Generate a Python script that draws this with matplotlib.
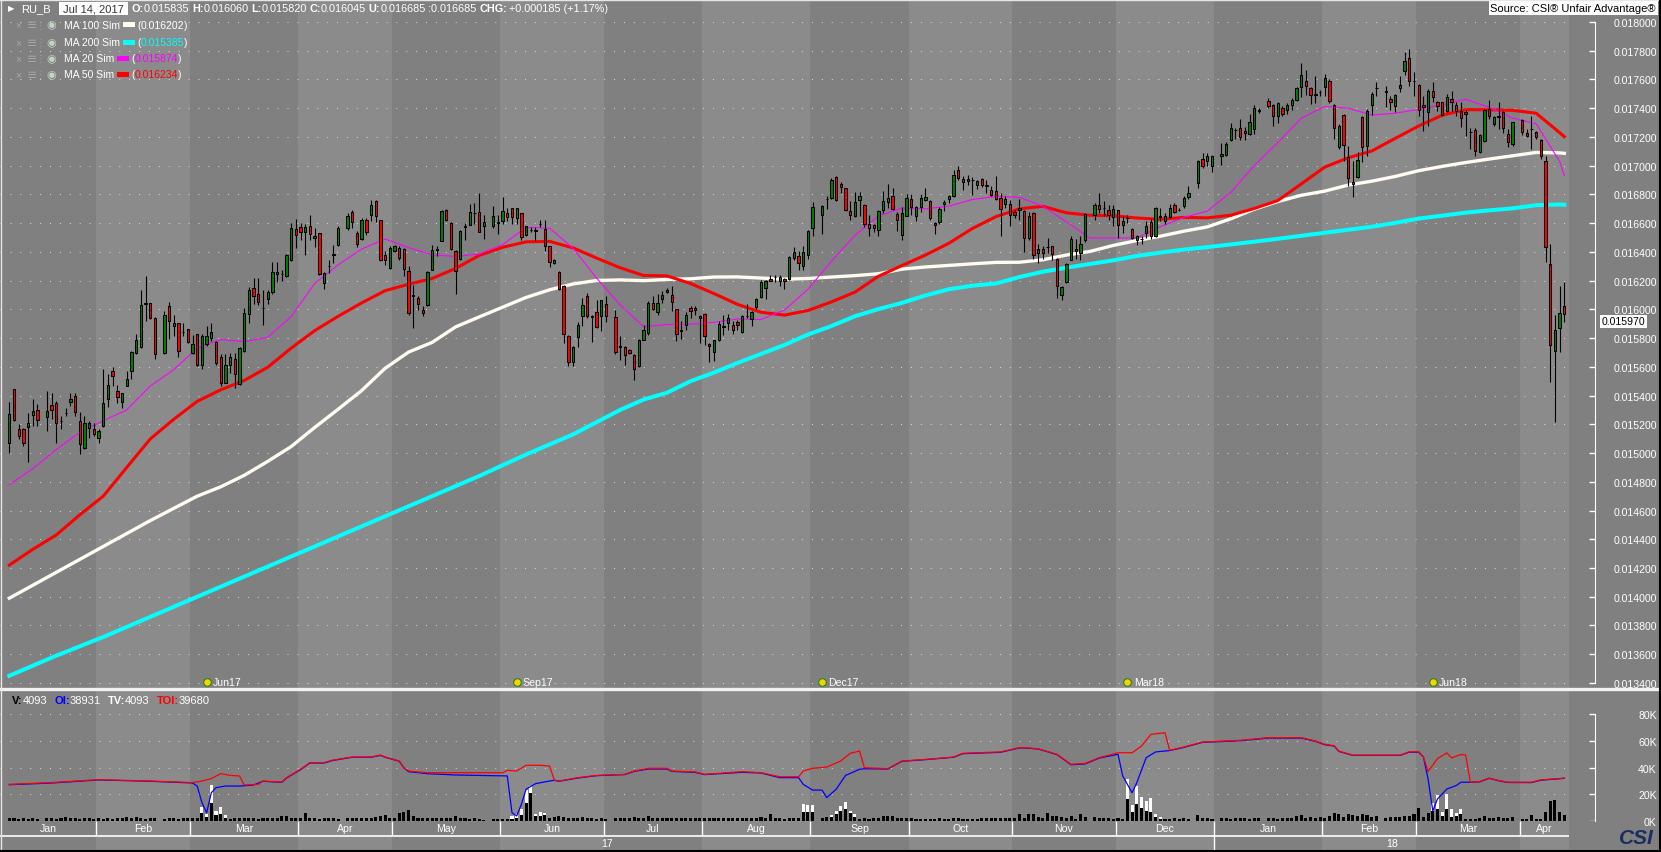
import matplotlib
matplotlib.use("Agg")
import matplotlib.pyplot as plt
from matplotlib.lines import Line2D
from matplotlib.patches import Rectangle
import numpy as np
import pandas as pd

plt.rcParams["font.family"] = ["Liberation Sans", "DejaVu Sans"]

# RU_B daily bars, prices in millionths of USD per ruble
opens = [
    # Jan 2017
    15072, 15448, 15169, 15165, 15183, 15264, 15301, 15253, 15332, 15350, 15223, 15276, 15355, 15394, 15225, 15035, 15174, 15169,
    # Feb
    15104, 15188, 15378, 15573, 15434, 15355, 15466, 15573, 15696, 15737, 16045, 16046, 15941, 15696, 16022, 15886, 15906, 15844, 15860,
    # Mar
    15698, 15830, 15610, 15756, 15802, 15774, 15670, 15489, 15610, 15658, 15480, 15709, 15969, 16150, 16108, 16011, 16069, 16122, 16247, 16247, 16231, 16342, 16560,
    # Apr
    16574, 16537, 16581, 16495, 16532, 16185, 16305, 16384, 16445, 16563, 16679, 16530, 16489, 16623, 16658, 16751, 16619, 16380, 16289,
    # May
    16403, 16424, 16422, 16269, 16097, 16079, 15997, 16032, 16276, 16419, 16477, 16693, 16600, 16403, 16352, 16579, 16588, 16674, 16681, 16577, 16577, 16607,
    # Jun
    16612, 16674, 16704, 16637, 16670, 16519, 16554, 16549, 16595, 16558, 16438, 16322, 16259, 16160, 15812, 15634, 15807, 15951, 16090, 15951, 15981, 15951,
    # Jul
    16039, 15946, 15742, 15738, 15719, 15684, 15603, 15789, 15835, 16044, 15979, 16074, 16118, 16103, 16003, 15855, 15889, 16010, 16010, 15957,
    # Aug
    15970, 15762, 15702, 15785, 15882, 15906, 15894, 15910, 15843, 15952, 15933, 16015, 16087, 16149, 16211, 16225, 16195, 16211, 16211, 16357, 16374, 16304, 16376,
    # Sep
    16566, 16654, 16770, 16775, 16921, 16872, 16844, 16687, 16647, 16763, 16728, 16594, 16589, 16550, 16694, 16749, 16791, 16666, 16515, 16652,
    # Oct
    16770, 16652, 16712, 16763, 16756, 16601, 16606, 16735, 16770, 16791, 16972, 16886, 16907, 16902, 16868, 16909, 16868, 16833, 16821, 16775, 16736, 16736,
    # Nov
    16675, 16689, 16687, 16497, 16671, 16393, 16423, 16434, 16439, 16353, 16103, 16188, 16346, 16420, 16393, 16485, 16654, 16729, 16705, 16694, 16643,
    # Dec
    16694, 16585, 16636, 16559, 16485, 16490, 16532, 16606, 16509, 16647, 16613, 16640, 16729, 16694, 16717, 16782, 16879, 17046, 17030, 16995,
    # Jan 2018
    17069, 17076, 17181, 17250, 17262, 17243, 17222, 17255, 17382, 17452, 17424, 17347, 17401, 17384, 17424, 17454, 17551, 17586, 17540, 17494, 17512,
    # Feb
    17545, 17587, 17424, 17127, 17352, 17058, 16888, 16919, 17336, 17139, 17422, 17540, 17522, 17464, 17413, 17538, 17661, 17747, 17587,
    # Mar
    17564, 17424, 17371, 17522, 17441, 17441, 17383, 17464, 17424, 17378, 17371, 17232, 17248, 17093, 17174, 17394, 17290, 17341, 17371, 17220, 17151,
    # Apr
    17318, 17227, 17255, 17232, 17181, 17030, 16315, 15708, 15868, 16021,
]
highs = [
    15355, 15448, 15199, 15176, 15276, 15373, 15339, 15429, 15415, 15364, 15257, 15315, 15415, 15415, 15285, 15257, 15223, 15206,
    15169, 15587, 15552, 15596, 15471, 15420, 15573, 15712, 15832, 16138, 16231, 16046, 15948, 15988, 16050, 15962, 15906, 15902, 15860,
    15825, 15830, 15828, 15883, 15906, 15779, 15686, 15686, 15698, 15698, 15740, 16011, 16154, 16220, 16220, 16138, 16134, 16328, 16328, 16277, 16384, 16602, 16630,
    16602, 16597, 16660, 16567, 16532, 16261, 16347, 16450, 16577, 16670, 16693, 16542, 16635, 16635, 16762, 16762, 16623, 16403, 16438,
    16449, 16438, 16426, 16299, 16171, 16090, 16020, 16264, 16445, 16438, 16693, 16697, 16605, 16415, 16554, 16600, 16735, 16739, 16809, 16658, 16721, 16658,
    16779, 16704, 16704, 16704, 16674, 16581, 16572, 16572, 16619, 16619, 16442, 16350, 16264, 16171, 15821, 15742, 15909, 16078, 16113, 15963, 16067, 16067,
    16090, 15993, 15812, 15742, 15724, 15689, 15793, 15893, 16060, 16090, 16109, 16125, 16148, 16165, 16003, 15917, 15980, 16021, 16021, 15964,
    15975, 15767, 15790, 15917, 15964, 15968, 15917, 15924, 15964, 16040, 15987, 16079, 16202, 16207, 16242, 16239, 16242, 16218, 16369, 16434, 16404, 16443, 16555,
    16745, 16728, 16786, 16914, 16930, 16884, 16844, 16752, 16814, 16814, 16735, 16659, 16596, 16694, 16821, 16874, 16844, 16675, 16712, 16805,
    16803, 16721, 16805, 16844, 16763, 16606, 16712, 16759, 16798, 16972, 16995, 16925, 16937, 16921, 16898, 16914, 16902, 16856, 16926, 16810, 16787, 16763,
    16694, 16768, 16689, 16675, 16675, 16457, 16444, 16497, 16444, 16358, 16161, 16323, 16509, 16490, 16509, 16671, 16740, 16810, 16752, 16729, 16729,
    16694, 16648, 16659, 16566, 16520, 16508, 16617, 16636, 16712, 16705, 16671, 16735, 16740, 16705, 16787, 16856, 17041, 17088, 17088, 17076,
    17157, 17162, 17296, 17262, 17327, 17269, 17361, 17424, 17401, 17470, 17431, 17440, 17412, 17436, 17470, 17547, 17718, 17667, 17551, 17626, 17528,
    17638, 17603, 17429, 17290, 17359, 17139, 17035, 17097, 17343, 17394, 17515, 17584, 17557, 17487, 17499, 17626, 17789, 17812, 17649,
    17568, 17487, 17533, 17580, 17452, 17445, 17499, 17522, 17445, 17441, 17390, 17260, 17260, 17220, 17394, 17457, 17343, 17445, 17383, 17255, 17306,
    17325, 17255, 17348, 17243, 17185, 17069, 16455, 15963, 16160, 16188,
]
lows = [
    15002, 15225, 15095, 15049, 14938, 15188, 15188, 15153, 15234, 15067, 15165, 15257, 15327, 15257, 14996, 15026, 15104, 15118,
    15072, 15181, 15322, 15466, 15350, 15311, 15466, 15513, 15689, 15730, 15918, 15934, 15656, 15689, 15795, 15814, 15670, 15814, 15763,
    15686, 15605, 15582, 15744, 15779, 15614, 15466, 15485, 15559, 15450, 15475, 15702, 15902, 16034, 16032, 15888, 16034, 16110, 16189, 16196, 16226, 16338, 16426,
    16486, 16375, 16486, 16435, 16240, 16143, 16254, 16322, 16438, 16554, 16565, 16433, 16484, 16519, 16612, 16605, 16340, 16310, 16282,
    16396, 16345, 16229, 15963, 15870, 15997, 15951, 16020, 16271, 16373, 16473, 16612, 16415, 16109, 16345, 16484, 16586, 16595, 16535, 16489, 16563, 16526,
    16595, 16612, 16595, 16595, 16480, 16512, 16535, 16473, 16572, 16403, 16294, 16315, 16137, 15766, 15603, 15603, 15738, 15882, 15940, 15770, 15870, 15847,
    15910, 15691, 15650, 15615, 15689, 15511, 15599, 15784, 15820, 15997, 15963, 16044, 16113, 15987, 15778, 15794, 15859, 15940, 15963, 15767,
    15755, 15632, 15639, 15778, 15824, 15859, 15831, 15859, 15836, 15940, 15882, 16000, 16080, 16072, 16195, 16188, 16161, 16142, 16207, 16346, 16276, 16276, 16351,
    16508, 16524, 16701, 16770, 16752, 16810, 16682, 16620, 16643, 16647, 16573, 16513, 16536, 16513, 16671, 16705, 16694, 16543, 16485, 16647,
    16659, 16612, 16675, 16752, 16620, 16527, 16596, 16682, 16740, 16782, 16902, 16833, 16868, 16798, 16837, 16851, 16810, 16786, 16763, 16513, 16705, 16578,
    16636, 16624, 16399, 16485, 16351, 16323, 16351, 16393, 16346, 16080, 16068, 16184, 16341, 16351, 16346, 16471, 16624, 16671, 16648, 16624, 16578,
    16497, 16532, 16601, 16490, 16450, 16457, 16497, 16490, 16504, 16613, 16596, 16636, 16671, 16682, 16705, 16768, 16844, 16984, 16995, 16953,
    17007, 17069, 17169, 17185, 17181, 17176, 17215, 17222, 17366, 17401, 17273, 17297, 17343, 17361, 17385, 17447, 17477, 17494, 17431, 17436, 17482,
    17487, 17436, 17185, 17116, 17035, 16861, 16779, 16912, 17023, 17065, 17352, 17487, 17406, 17390, 17376, 17515, 17631, 17552, 17487,
    17343, 17243, 17274, 17441, 17383, 17343, 17371, 17383, 17343, 17267, 17209, 17116, 17065, 17088, 17162, 17325, 17278, 17255, 17227, 17127, 17139,
    17213, 17197, 17116, 17185, 17046, 16332, 15497, 15218, 15705, 15909,
]
closes = [
    15269, 15230, 15118, 15067, 15211, 15292, 15232, 15292, 15299, 15211, 15223, 15276, 15373, 15285, 15065, 15206, 15206, 15135,
    15155, 15346, 15475, 15538, 15390, 15415, 15513, 15705, 15784, 16027, 16040, 15941, 15686, 15958, 15916, 15906, 15709, 15840, 15774,
    15760, 15610, 15814, 15814, 15844, 15624, 15489, 15610, 15670, 15547, 15728, 15976, 16138, 16092, 16053, 16008, 16120, 16259, 16261, 16244, 16375, 16567, 16519,
    16537, 16574, 16523, 16514, 16247, 16254, 16302, 16381, 16565, 16651, 16605, 16456, 16621, 16535, 16728, 16653, 16345, 16345, 16424,
    16442, 16357, 16280, 15974, 16094, 16034, 15974, 16259, 16415, 16416, 16688, 16619, 16419, 16269, 16547, 16576, 16681, 16671, 16540, 16609, 16651, 16604,
    16688, 16644, 16642, 16704, 16503, 16577, 16551, 16546, 16592, 16438, 16329, 16345, 16141, 15831, 15634, 15735, 15893, 16032, 15951, 15948, 15877, 16067,
    15951, 15703, 15739, 15684, 15696, 15585, 15789, 15858, 16045, 16002, 16044, 16102, 16137, 16049, 15829, 15852, 15964, 15987, 15994, 15940,
    15813, 15743, 15785, 15901, 15879, 15940, 15859, 15894, 15952, 15955, 15980, 16072, 16191, 16195, 16196, 16222, 16225, 16195, 16362, 16399, 16323, 16399, 16543,
    16712, 16721, 16767, 16902, 16759, 16851, 16694, 16654, 16749, 16791, 16594, 16564, 16566, 16682, 16756, 16777, 16701, 16620, 16670, 16775,
    16712, 16712, 16775, 16782, 16636, 16590, 16701, 16745, 16791, 16937, 16914, 16909, 16891, 16899, 16891, 16868, 16856, 16798, 16768, 16698, 16768, 16654,
    16654, 16705, 16497, 16652, 16381, 16420, 16393, 16431, 16388, 16161, 16154, 16316, 16492, 16404, 16457, 16666, 16729, 16698, 16702, 16659, 16698,
    16590, 16617, 16633, 16497, 16508, 16487, 16578, 16509, 16705, 16644, 16647, 16705, 16675, 16691, 16775, 16810, 17030, 16995, 17065, 17065,
    17083, 17153, 17262, 17247, 17199, 17227, 17301, 17401, 17385, 17417, 17347, 17436, 17361, 17424, 17459, 17540, 17633, 17556, 17494, 17497, 17515,
    17608, 17452, 17262, 17278, 17146, 16912, 16872, 17042, 17127, 17383, 17496, 17543, 17510, 17441, 17494, 17564, 17731, 17591, 17590,
    17390, 17410, 17522, 17475, 17413, 17352, 17480, 17441, 17383, 17329, 17362, 17235, 17104, 17213, 17387, 17343, 17336, 17344, 17260, 17162, 17301,
    17232, 17209, 17258, 17197, 17069, 16431, 15752, 15856, 15972, 15970,
]
# contract volume, thousands
volume = [
    2.0, 2.2, 1.8, 2.0, 1.2, 2.0, 1.5, 2.2, 2.0, 1.5, 2.2, 3.0, 2.0, 2.2, 1.5, 2.0, 2.2, 1.5,
    2.0, 1.5, 2.2, 1.5, 2.0, 2.2, 3.0, 2.5, 3.2, 2.5, 1.5, 2.0, 2.2, 1.5, 2.0, 2.5, 1.5, 2.0, 2.2,
    2.0, 2.5, 6.2, 3.0, 13.8, 4.2, 5.0, 2.0, 1.5, 2.0, 2.2, 2.0, 2.5, 2.2, 1.5, 2.0, 2.5, 2.2, 2.0, 3.8, 3.8, 2.5, 2.2,
    2.5, 5.8, 2.2, 2.0, 1.5, 2.5, 2.0, 2.2, 1.5, 2.0, 2.5, 2.2, 2.5, 2.0, 2.2, 3.0, 3.8, 4.5, 2.5,
    2.0, 5.8, 6.8, 8.0, 3.5, 2.5, 2.2, 2.0, 2.5, 2.2, 2.5, 2.0, 2.2, 3.8, 2.5, 2.0, 1.5, 2.0, 1.5, 1.0, 1.2, 1.5,
    1.2, 1.5, 1.8, 2.5, 4.2, 13.2, 20.8, 3.8, 3.8, 4.5, 2.5, 3.0, 3.5, 3.0, 2.5, 2.2, 2.0, 3.0, 2.5, 2.0, 1.5, 2.2,
    1.5, 2.2, 2.5, 2.0, 2.2, 3.0, 2.2, 2.5, 4.1, 2.2, 2.0, 2.5, 2.2, 2.0, 2.5, 2.2, 2.0, 2.5, 2.2, 2.0,
    2.5, 2.2, 2.0, 2.5, 2.2, 2.0, 2.5, 2.2, 2.0, 2.5, 2.2, 2.5, 3.0, 2.5, 5.0, 2.5, 2.0, 1.8, 2.0, 2.5, 2.0, 7.0, 7.0,
    7.0, 2.5, 3.0, 3.2, 5.0, 7.5, 9.2, 6.2, 3.0, 1.5, 2.0, 1.5, 2.5, 2.0, 3.5, 3.5, 3.5, 2.5, 2.0, 2.2,
    2.0, 1.5, 1.5, 1.5, 1.5, 1.5, 2.0, 1.5, 1.5, 2.5, 2.0, 1.5, 1.5, 1.5, 1.5, 2.5, 2.0, 2.0, 2.5, 2.5, 2.5, 2.0,
    2.5, 5.0, 2.5, 5.0, 5.0, 3.0, 2.5, 5.8, 3.8, 3.8, 3.0, 2.5, 3.8, 1.5, 5.0, 3.0, 3.0, 2.5, 2.0, 2.0, 1.5,
    2.0, 1.5, 16.2, 6.8, 12.5, 10.0, 7.5, 7.0, 3.0, 1.2, 1.5, 1.5, 2.0, 1.5, 2.5, 1.2, 4.2, 2.5, 2.0, 1.2,
    2.0, 2.5, 1.5, 2.0, 2.5, 2.5, 1.5, 2.0, 2.0, 2.5, 2.0, 1.5, 2.5, 2.5, 2.5, 3.5, 4.2, 2.5, 3.0, 2.5, 3.0,
    2.5, 4.0, 6.2, 5.0, 3.0, 5.0, 4.5, 3.5, 5.0, 4.3, 3.0, 3.8, 2.5, 3.3, 3.0, 3.3, 3.5, 3.5, 5.0,
    10.0, 3.3, 6.3, 7.6, 8.9, 3.8, 8.9, 3.3, 3.8, 5.0, 1.3, 1.3, 1.3, 2.5, 3.5, 2.0, 2.5, 3.3, 2.0, 2.5, 3.0,
    1.3, 1.3, 4.3, 1.3, 1.3, 7.0, 14.7, 16.0, 6.8, 4.3,
]
# total volume on roll days (white bars), by weekday session number
tv_day = [41, 42, 43, 44, 45, 46, 107, 108, 109, 110, 111, 112, 113, 114,
          169, 170, 171, 174, 175, 176, 177, 178, 179, 180,
          238, 239, 240, 241, 242, 243, 244, 245, 303, 304, 305, 306, 307, 308, 309]
tv_k = [10.5, 5.0, 26.8, 7.5, 10.5, 4.2, 3.8, 5.0, 8.8, 23.0, 26.2, 5.0, 7.0, 5.8,
        12.5, 11.8, 11.8, 3.2, 4.2, 7.2, 11.2, 14.2, 7.5, 5.0,
        31.2, 11.8, 26.2, 18.2, 15.0, 17.2, 5.0, 3.0, 13.2, 19.7, 7.0, 20.3, 8.9, 6.3, 8.9]

# open interest (blue) and total open interest (red), thousands
oi_day = [0, 9, 19, 30, 39, 40, 41, 42, 43, 44, 46, 49, 52, 54, 58, 59, 62, 64, 67, 69, 73, 77, 79, 80, 83,
          84, 85, 89, 95, 106, 107, 108, 109, 110, 112, 115, 116, 117, 121, 125, 131, 133, 136, 140, 141,
          146, 148, 156, 160, 164, 168, 169, 171, 173, 174, 176, 178, 181, 182, 187, 190, 195, 201, 203, 211,
          215, 216, 219, 223, 226, 229, 232, 236, 237, 239, 240, 242, 244, 246, 247, 250, 254, 262, 268, 275,
          278, 280, 282, 283, 286, 296, 298, 300, 301, 302, 303, 304, 306, 308, 309, 311, 313, 315, 317, 319,
          324, 326, 329, 331]
oi_k = [27.2, 28.5, 30.8, 29.8, 28.5, 26.2, 13.8, 6.2, 21.2, 25.0, 26.2, 26.2, 27.0, 29.8, 29.0, 32.2, 38.5, 43.5, 43.5, 45.5, 47.8, 47.8, 49.2, 47.8, 44.8,
        39.8, 37.0, 35.5, 34.5, 33.8, 6.2, 3.8, 12.5, 23.8, 28.0, 30.0, 30.5, 29.8, 32.2, 34.0, 34.8, 37.2, 39.0, 39.0, 37.2,
        36.5, 34.8, 36.5, 36.0, 32.5, 32.5, 27.5, 23.2, 23.2, 17.5, 23.8, 34.2, 38.8, 39.2, 39.0, 44.8, 46.0, 47.8, 50.5, 51.5,
        54.8, 54.8, 54.0, 49.8, 42.2, 42.8, 47.2, 50.0, 33.8, 21.2, 28.8, 47.5, 51.8, 52.5, 52.8, 55.2, 59.0, 60.2, 62.2, 62.2,
        59.8, 57.2, 56.2, 52.2, 49.2, 49.2, 51.6, 51.6, 48.1, 31.6, 7.6, 16.5, 24.0, 26.6, 29.1, 29.1, 29.4, 32.0, 30.2, 28.9,
        28.8, 30.6, 31.4, 32.0]
toi_day = [0, 9, 19, 30, 39, 41, 43, 45, 47, 49, 50, 53, 54, 58, 59, 62, 64, 67, 69, 73, 77, 79, 80, 83, 84,
           85, 89, 105, 106, 108, 110, 113, 115, 116, 117, 121, 125, 131, 133, 136, 140, 141, 146, 148, 156,
           160, 164, 168, 169, 171, 174, 177, 179, 181, 182, 187, 190, 195, 201, 203, 211, 215, 216, 219, 223,
           226, 229, 232, 236, 239, 241, 243, 246, 247, 250, 254, 262, 268, 275, 278, 280, 282, 283, 286, 296,
           298, 300, 301, 302, 304, 306, 307, 308, 309, 310, 311, 313, 315, 317, 319, 324, 326, 329, 331]
toi_k = [27.5, 28.8, 31.0, 30.0, 28.8, 30.0, 31.8, 35.5, 34.2, 33.8, 27.0, 27.5, 30.0, 29.2, 32.5, 38.8, 43.8, 43.8, 45.8, 48.0, 48.0, 49.5, 48.0, 45.0, 40.0,
         37.5, 36.2, 36.2, 38.0, 37.5, 41.8, 41.8, 41.2, 30.8, 30.0, 32.5, 34.2, 35.0, 37.5, 39.5, 39.5, 37.5, 36.8, 35.0, 37.0,
         36.2, 33.2, 33.2, 37.5, 39.5, 40.5, 45.0, 50.8, 52.5, 40.0, 39.2, 45.0, 46.2, 48.0, 50.8, 51.8, 55.0, 55.0, 54.2, 50.0,
         42.5, 43.2, 47.5, 51.2, 51.2, 56.2, 65.0, 66.2, 53.0, 55.5, 59.2, 60.5, 62.5, 62.5, 60.0, 57.5, 56.5, 52.4, 49.4, 49.4,
         51.9, 51.9, 48.1, 37.2, 46.8, 51.1, 47.3, 48.6, 49.9, 49.4, 29.1, 29.6, 32.2, 30.4, 29.1, 29.1, 30.9, 31.6, 32.2]

# simple moving averages read once a week (every 5th weekday) plus the last day
ma20 = [14780, 14891, 15025, 15145, 15225, 15300, 15466, 15580, 15730, 15790,
        15775, 15805, 15950, 16180, 16310, 16420, 16490, 16430, 16380, 16368,
        16385, 16450, 16570, 16565, 16425, 16218, 16032, 15880, 15895, 15897,
        15910, 15933, 15930, 15995, 16140, 16335, 16515, 16650, 16705, 16700,
        16718, 16765, 16786, 16780, 16718, 16610, 16497, 16497, 16497, 16575,
        16640, 16684, 16815, 17000, 17160, 17330, 17412, 17400, 17352, 17365,
        17392, 17425, 17462, 17406, 17331, 17292, 17030, 16930]
ma50 = [14220, 14330, 14430, 14570, 14700, 14900, 15098, 15235, 15360, 15440,
        15505, 15597, 15730, 15852, 15952, 16045, 16130, 16175, 16215, 16285,
        16375, 16432, 16470, 16473, 16428, 16357, 16290, 16236, 16233, 16180,
        16110, 16035, 15980, 15960, 15992, 16052, 16120, 16230, 16305, 16378,
        16460, 16563, 16645, 16700, 16717, 16672, 16655, 16652, 16636, 16627,
        16640, 16637, 16655, 16702, 16757, 16873, 16990, 17055, 17102, 17190,
        17276, 17352, 17390, 17389, 17385, 17365, 17230, 17202]
ma100 = [13990, 14080, 14170, 14260, 14350, 14440, 14530, 14615, 14700, 14765,
         14845, 14942, 15045, 15178, 15305, 15435, 15590, 15703, 15770, 15878,
         15947, 16015, 16083, 16136, 16177, 16201, 16205, 16200, 16208, 16213,
         16225, 16226, 16218, 16210, 16215, 16225, 16235, 16248, 16280, 16295,
         16306, 16317, 16327, 16328, 16345, 16378, 16403, 16445, 16479, 16509,
         16544, 16574, 16630, 16697, 16750, 16794, 16823, 16865, 16892, 16925,
         16965, 16995, 17022, 17046, 17069, 17092, 17089, 17086]
ma200 = [13450, 13520, 13590, 13655, 13720, 13790, 13860, 13930, 14000, 14070,
         14140, 14210, 14280, 14350, 14420, 14490, 14560, 14630, 14700, 14770,
         14840, 14915, 14990, 15060, 15130, 15215, 15300, 15372, 15420, 15500,
         15560, 15627, 15690, 15752, 15825, 15884, 15952, 16002, 16045, 16097,
         16140, 16165, 16180, 16225, 16262, 16290, 16316, 16341, 16372, 16395,
         16416, 16433, 16452, 16471, 16491, 16512, 16533, 16554, 16575, 16602,
         16632, 16652, 16673, 16689, 16703, 16725, 16730, 16728]

roll_day = [42, 108, 173, 238, 303]
roll_name = ["Jun17", "Sep17", "Dec17", "Mar18", "Jun18"]
price_ticks = list(range(13400, 18001, 200))
vol_ticks = [0, 20, 40, 60, 80]

# weekday calendar: holidays keep their slot but have no bar
weekdays = pd.bdate_range("2017-01-05", "2018-04-13")
holidays = pd.to_datetime(["2017-01-16", "2017-02-20", "2017-04-14", "2017-05-29", "2017-07-04",
                           "2017-09-04", "2017-11-23", "2017-12-25", "2018-01-01", "2018-01-15",
                           "2018-02-19", "2018-03-30"])
sessions = weekdays[~weekdays.isin(holidays)]
day = weekdays.get_indexer(sessions)
assert len(day) == len(opens) == len(highs) == len(lows) == len(closes) == len(volume)

opens, highs, lows, closes = map(np.array, (opens, highs, lows, closes))
ma_day = list(range(0, 331, 5)) + [331]

# colours
DARK, LIGHT, GRID = "#808080", "#8b8b8b", "#d4d4d4"
GREEN, RED = "#008000", "#ff0000"

W, H = 1661, 853
X_LEFT, X_END, X_AXIS = -1.98, 332.0, 337.53


def px_rect(x0, y0, x1, y1):
    return [x0 / W, 1 - y1 / H, (x1 - x0) / W, (y1 - y0) / H]


fig = plt.figure(figsize=(W / 100, H / 100), dpi=100, facecolor=DARK)

month_starts = pd.date_range("2017-01-01", "2018-04-01", freq="MS")
edges = list(np.searchsorted(weekdays, month_starts) - 0.5)
edges[0] = X_LEFT
edges.append(X_END)


def shade(a):
    a.set_facecolor(DARK)
    for i in range(len(month_starts)):
        if i % 2:
            a.axvspan(edges[i], edges[i + 1], color=LIGHT, lw=0, zorder=0)
    a.set_xlim(X_LEFT, X_AXIS)
    a.set_xticks([])
    for s in ["left", "top", "bottom", "right"]:
        a.spines[s].set_visible(False)


def right_axis(a, ticks, labels, lo, hi):
    a.yaxis.tick_right()
    a.set_yticks(ticks)
    a.set_yticklabels(labels)
    a.tick_params(axis="y", direction="in", length=4, width=1, colors="white",
                  labelsize=7.6, pad=44.5)
    for lab in a.get_yticklabels():
        lab.set_horizontalalignment("right")
    a.spines["right"].set_visible(True)
    a.spines["right"].set_color("white")
    a.spines["right"].set_bounds(lo, hi)


# price panel
ax = fig.add_axes(px_rect(0, 1, 1595, 689))
shade(ax)
ax.set_ylim(13365, 18153)
ax.hlines(price_ticks, X_LEFT, X_END, colors=GRID, linestyles=(0, (1, 8.5)), lw=0.75, zorder=1)
ax.plot(ma_day, ma200, color="#00ffff", lw=2.9, zorder=2)
ax.plot(ma_day, ma100, color="#fffbf0", lw=2.4, zorder=2)
ax.plot(ma_day, ma50, color=RED, lw=2.2, zorder=2)
ax.plot(ma_day, ma20, color="#ff00ff", lw=0.8, zorder=2)
ax.vlines(day, lows, highs, color="black", lw=0.8, zorder=3)
up = closes >= opens
ax.bar(day, np.abs(closes - opens), bottom=np.minimum(opens, closes), width=0.5,
       color=np.where(up, GREEN, RED), edgecolor="black", lw=0.75, zorder=4)
right_axis(ax, price_ticks, [f"{p / 1e6:.6f}" for p in price_ticks], 13400, 18000)
# last-price tag sits just under the 0.016000 label, as in the terminal
ax.annotate(f"{closes[-1] / 1e6:.6f}", (1.004, closes[-1]), xycoords=ax.get_yaxis_transform(),
            xytext=(0, -5.5), textcoords="offset points", ha="left", va="center",
            fontsize=7.6, color="black", annotation_clip=False, zorder=10,
            bbox=dict(boxstyle="square,pad=0.15", fc="white", ec="none"))

marker_y = 0.0092
ax.scatter(roll_day, [marker_y] * len(roll_day), transform=ax.get_xaxis_transform(), s=30,
           facecolor="#ffd000", edgecolor="#1a8a1a", lw=0.8, zorder=6, clip_on=False)
for d, name in zip(roll_day, roll_name):
    ax.annotate(name, (d, marker_y), xycoords=ax.get_xaxis_transform(), xytext=(4.5, 0),
                textcoords="offset points", ha="left", va="center", color="white", fontsize=7.6)

# volume / open interest panel
axv = fig.add_axes(px_rect(0, 692, 1595, 822))
shade(axv)
axv.set_ylim(0, 97.5)
axv.hlines(vol_ticks[1:], X_LEFT, X_END, colors=GRID, linestyles=(0, (1, 8.5)), lw=0.75, zorder=1)
axv.bar(tv_day, tv_k, width=0.65, color="white", lw=0, zorder=3)
axv.bar(day, volume, width=0.65, color="black", lw=0, zorder=4)
axv.plot(oi_day, oi_k, color="#0000ff", lw=0.9, zorder=5)
axv.plot(toi_day, toi_k, color=RED, lw=0.9, zorder=6)
right_axis(axv, vol_ticks, [f"{v}K" for v in vol_ticks], 0, 80)

# date strip
axx = fig.add_axes(px_rect(0, 822, 1595, 852))
shade(axx)
axx.set_ylim(0, 30)
axx.set_yticks([])
axx.vlines(edges[1:-1], 15.3, 30, colors="white", lw=1)
axx.hlines(15.3, X_LEFT, X_END, colors="white", lw=1.2)
axx.vlines(edges[12], 0, 15.3, colors="white", lw=1)
for i, ms in enumerate(month_starts):
    axx.text((edges[i] + edges[i + 1]) / 2, 23, ms.strftime("%b"), ha="center", va="center",
             color="white", fontsize=7.6)
axx.text((X_LEFT + edges[12]) / 2, 7.7, "17", ha="center", va="center", color="white", fontsize=7.6)
axx.text((edges[12] + X_END) / 2, 7.7, "18", ha="center", va="center", color="white", fontsize=7.6)

# frame lines
fig.add_artist(Line2D([0, 1], [1 - 690 / H] * 2, color="#f2f2f2", lw=2.4, transform=fig.transFigure))
fig.add_artist(Line2D([0, 1], [1 - 0.5 / H] * 2, color="#e6e6e6", lw=1, transform=fig.transFigure))
fig.add_artist(Line2D([0.5 / W] * 2, [0, 1], color="#e6e6e6", lw=1, transform=fig.transFigure))
fig.add_artist(Line2D([0, 1], [0.6 / H] * 2, color="black", lw=1.5, transform=fig.transFigure))
fig.add_artist(Line2D([1 - 0.6 / W] * 2, [0, 1], color="black", lw=1.5, transform=fig.transFigure))

renderer = fig.canvas.get_renderer()


def seq_text(x, y, pieces, size):
    for s, color, weight, gap in pieces:
        t = fig.text(x / W, 1 - y / H, s, color=color, fontsize=size, fontweight=weight,
                     ha="left", va="center")
        x = t.get_window_extent(renderer).x1 + gap
    return x


# header
fig.text(8 / W, 1 - 9 / H, "▶", color="white", fontsize=6, va="center", family=["DejaVu Sans"])
seq_text(21, 9, [("RU_B", "white", "normal", 0)], 8)
fig.add_artist(Rectangle((59 / W, 1 - 16 / H), 69 / W, 13 / H, transform=fig.transFigure,
                         fc="white", ec="none"))
fig.text(93.5 / W, 1 - 9.5 / H, "Jul 14, 2017", color="#333333", fontsize=8, ha="center", va="center")
seq_text(132, 9, [("O:", "white", "bold", 0), ("0.015835", "white", "normal", 2.5),
                  ("H:", "white", "bold", 0), ("0.016060", "white", "normal", 2.5),
                  ("L:", "white", "bold", 0), ("0.015820", "white", "normal", 2.5),
                  ("C:", "white", "bold", 0), ("0.016045", "white", "normal", 2.5),
                  ("U:", "white", "bold", 0), ("0.016685", "white", "normal", 2.5),
                  (":0.016685", "white", "normal", 2.5),
                  ("CHG:", "white", "bold", 2.5), ("+0.000185 (+1.17%)", "white", "normal", 0)], 7.8)
fig.text(1656 / W, 1 - 9 / H, "Source: CSI® Unfair Advantage®", color="black", fontsize=8,
         ha="right", va="center", bbox=dict(boxstyle="square,pad=0.15", fc="white", ec="none"))

# moving-average legend
legend_rows = [(25.7, "MA 100 Sim", "#fffbf0", "0.016202", "white"),
               (43.3, "MA 200 Sim", "#00ffff", "0.015385", "#00ffff"),
               (59.3, "MA 20 Sim", "#ff00ff", "0.015874", "#ff00ff"),
               (75.0, "MA 50 Sim", "#ff0000", "0.016234", "#ff0000")]
for y, name, sw, val, vcol in legend_rows:
    fig.text(15 / W, 1 - y / H, "×", color="#a8a8a8", fontsize=7.5, va="center")
    fig.text(27 / W, 1 - y / H, "≡", color="#a4a4a4", fontsize=9, va="center", family=["DejaVu Sans"])
    fig.text(36 / W, 1 - y / H, "⋮", color="#a4a4a4", fontsize=7, va="center", family=["DejaVu Sans"])
    fig.text(46 / W, 1 - y / H, "◉", color="#c4d4c4", fontsize=8, va="center", family=["DejaVu Sans"])
    xe = seq_text(64, y, [(name, "white", "normal", 3)], 7.5)
    fig.add_artist(Rectangle((xe / W, 1 - (y + 2.5) / H), 12 / W, 5 / H, transform=fig.transFigure,
                             fc=sw, ec="none"))
    seq_text(xe + 14, y, [("(", "white", "normal", 0), (val, vcol, "normal", 0),
                          (")", "white", "normal", 0)], 7.5)

# volume panel readout
seq_text(12, 701, [("V:", "black", "bold", 0), ("4093", "white", "normal", 7),
                   ("OI:", "#0000ff", "bold", 0), ("38931", "white", "normal", 7),
                   ("TV:", "white", "bold", 0), ("4093", "white", "normal", 7),
                   ("TOI:", "#ff0000", "bold", 0), ("39680", "white", "normal", 0)], 8)

fig.text(1636 / W, 1 - 839 / H, "CSI", color="#1b2d5e", fontsize=15, fontweight="bold",
         style="italic", ha="center", va="center")

fig.savefig("out.png", dpi=100, facecolor=fig.get_facecolor())
